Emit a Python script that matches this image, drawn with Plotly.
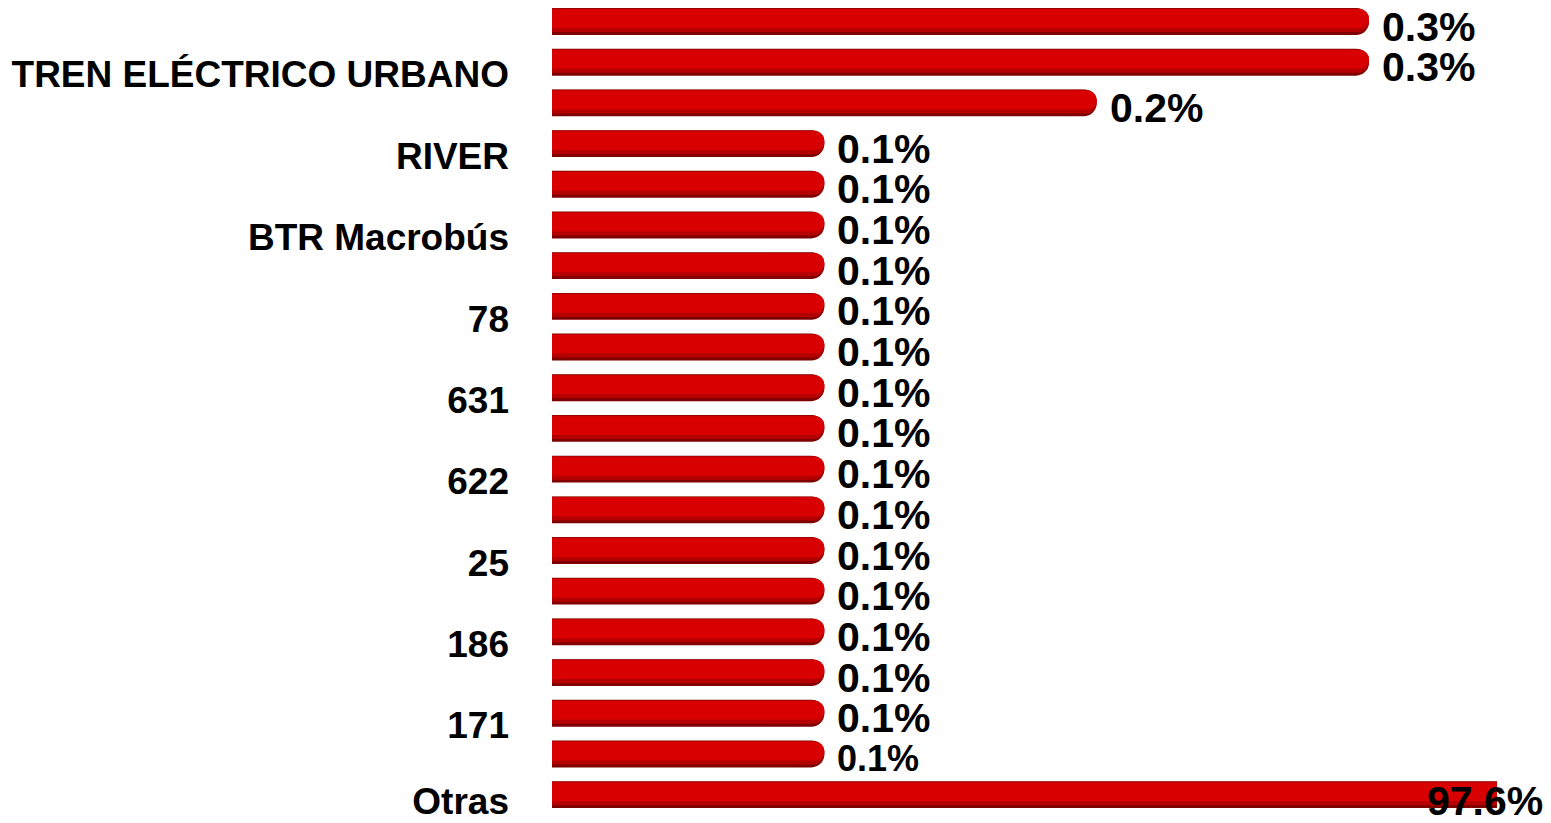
import plotly.graph_objects as go

# ---- data ----
labels = ["", "TREN ELÉCTRICO URBANO", "", "RIVER", "", "BTR Macrobús", "", "78", "", "631",
          "", "622", "", "25", "", "186", "", "171", "", "Otras"]
values = [0.3, 0.3, 0.2, 0.1, 0.1, 0.1, 0.1, 0.1, 0.1, 0.1,
          0.1, 0.1, 0.1, 0.1, 0.1, 0.1, 0.1, 0.1, 0.1, 97.6]

# ---- style ----
X_MAX = 0.347
FONT = "Liberation Sans, Arial, sans-serif"
LABEL_DROP = 0.3          # tick labels sit slightly below their bars (category units)
LAST_LABEL_DROP = 0.15    # bottom label is pushed up to stay inside the chart
positions = list(range(len(values)))

fig = go.Figure()
# layered bars give a cylinder-like shading
layers = [
    dict(width=0.66, offset=-0.33, color="#7e0000"),
    dict(width=0.58, offset=-0.32, color="#b40000"),
    dict(width=0.46, offset=-0.30, color="#d80000"),
]
for k, lay in enumerate(layers):
    fig.add_trace(go.Bar(
        y=positions, x=values, orientation="h", width=lay["width"], offset=lay["offset"],
        marker=dict(color=lay["color"], line=dict(width=0)),
        hovertemplate="%{x:.1f}%<extra></extra>" if k == len(layers) - 1 else None,
        hoverinfo=None if k == len(layers) - 1 else "skip",
        showlegend=False,
    ))

small_label = {18: 36}
for i, v in enumerate(values):
    size = small_label.get(i, 41)
    if v > X_MAX:
        fig.add_annotation(x=X_MAX, y=i, text=f"{v:.1f}%", showarrow=False,
                           xanchor="center", yanchor="middle", xshift=-12, yshift=-6,
                           font=dict(family=FONT, size=size, color="black", weight="bold"))
    else:
        fig.add_annotation(x=v, y=i, text=f"{v:.1f}%", showarrow=False,
                           xanchor="left", yanchor="middle", xshift=11, yshift=-5,
                           font=dict(family=FONT, size=size, color="black", weight="bold"))

n = len(values)
tick_vals = [p + (LAST_LABEL_DROP if p == n - 1 else LABEL_DROP)
             for p, l in zip(positions, labels) if l]
tick_text = [l for l in labels if l]

fig.update_layout(
    width=1543, height=815,
    margin=dict(l=544, r=54, t=0, b=8, autoexpand=False),
    paper_bgcolor="white", plot_bgcolor="white",
    barmode="overlay", barcornerradius=13,
    xaxis=dict(range=[0, X_MAX], visible=False, showgrid=False, zeroline=False,
               automargin=False),
    yaxis=dict(range=[n - 0.5, -0.332], tickvals=tick_vals, ticktext=tick_text,
               showgrid=False, zeroline=False, showline=False, ticks="",
               ticklabelstandoff=42, automargin=False, ticklabeloverflow="allow",
               tickfont=dict(family=FONT, size=37, color="black", weight="bold")),
)

fig.write_html("out.html")
